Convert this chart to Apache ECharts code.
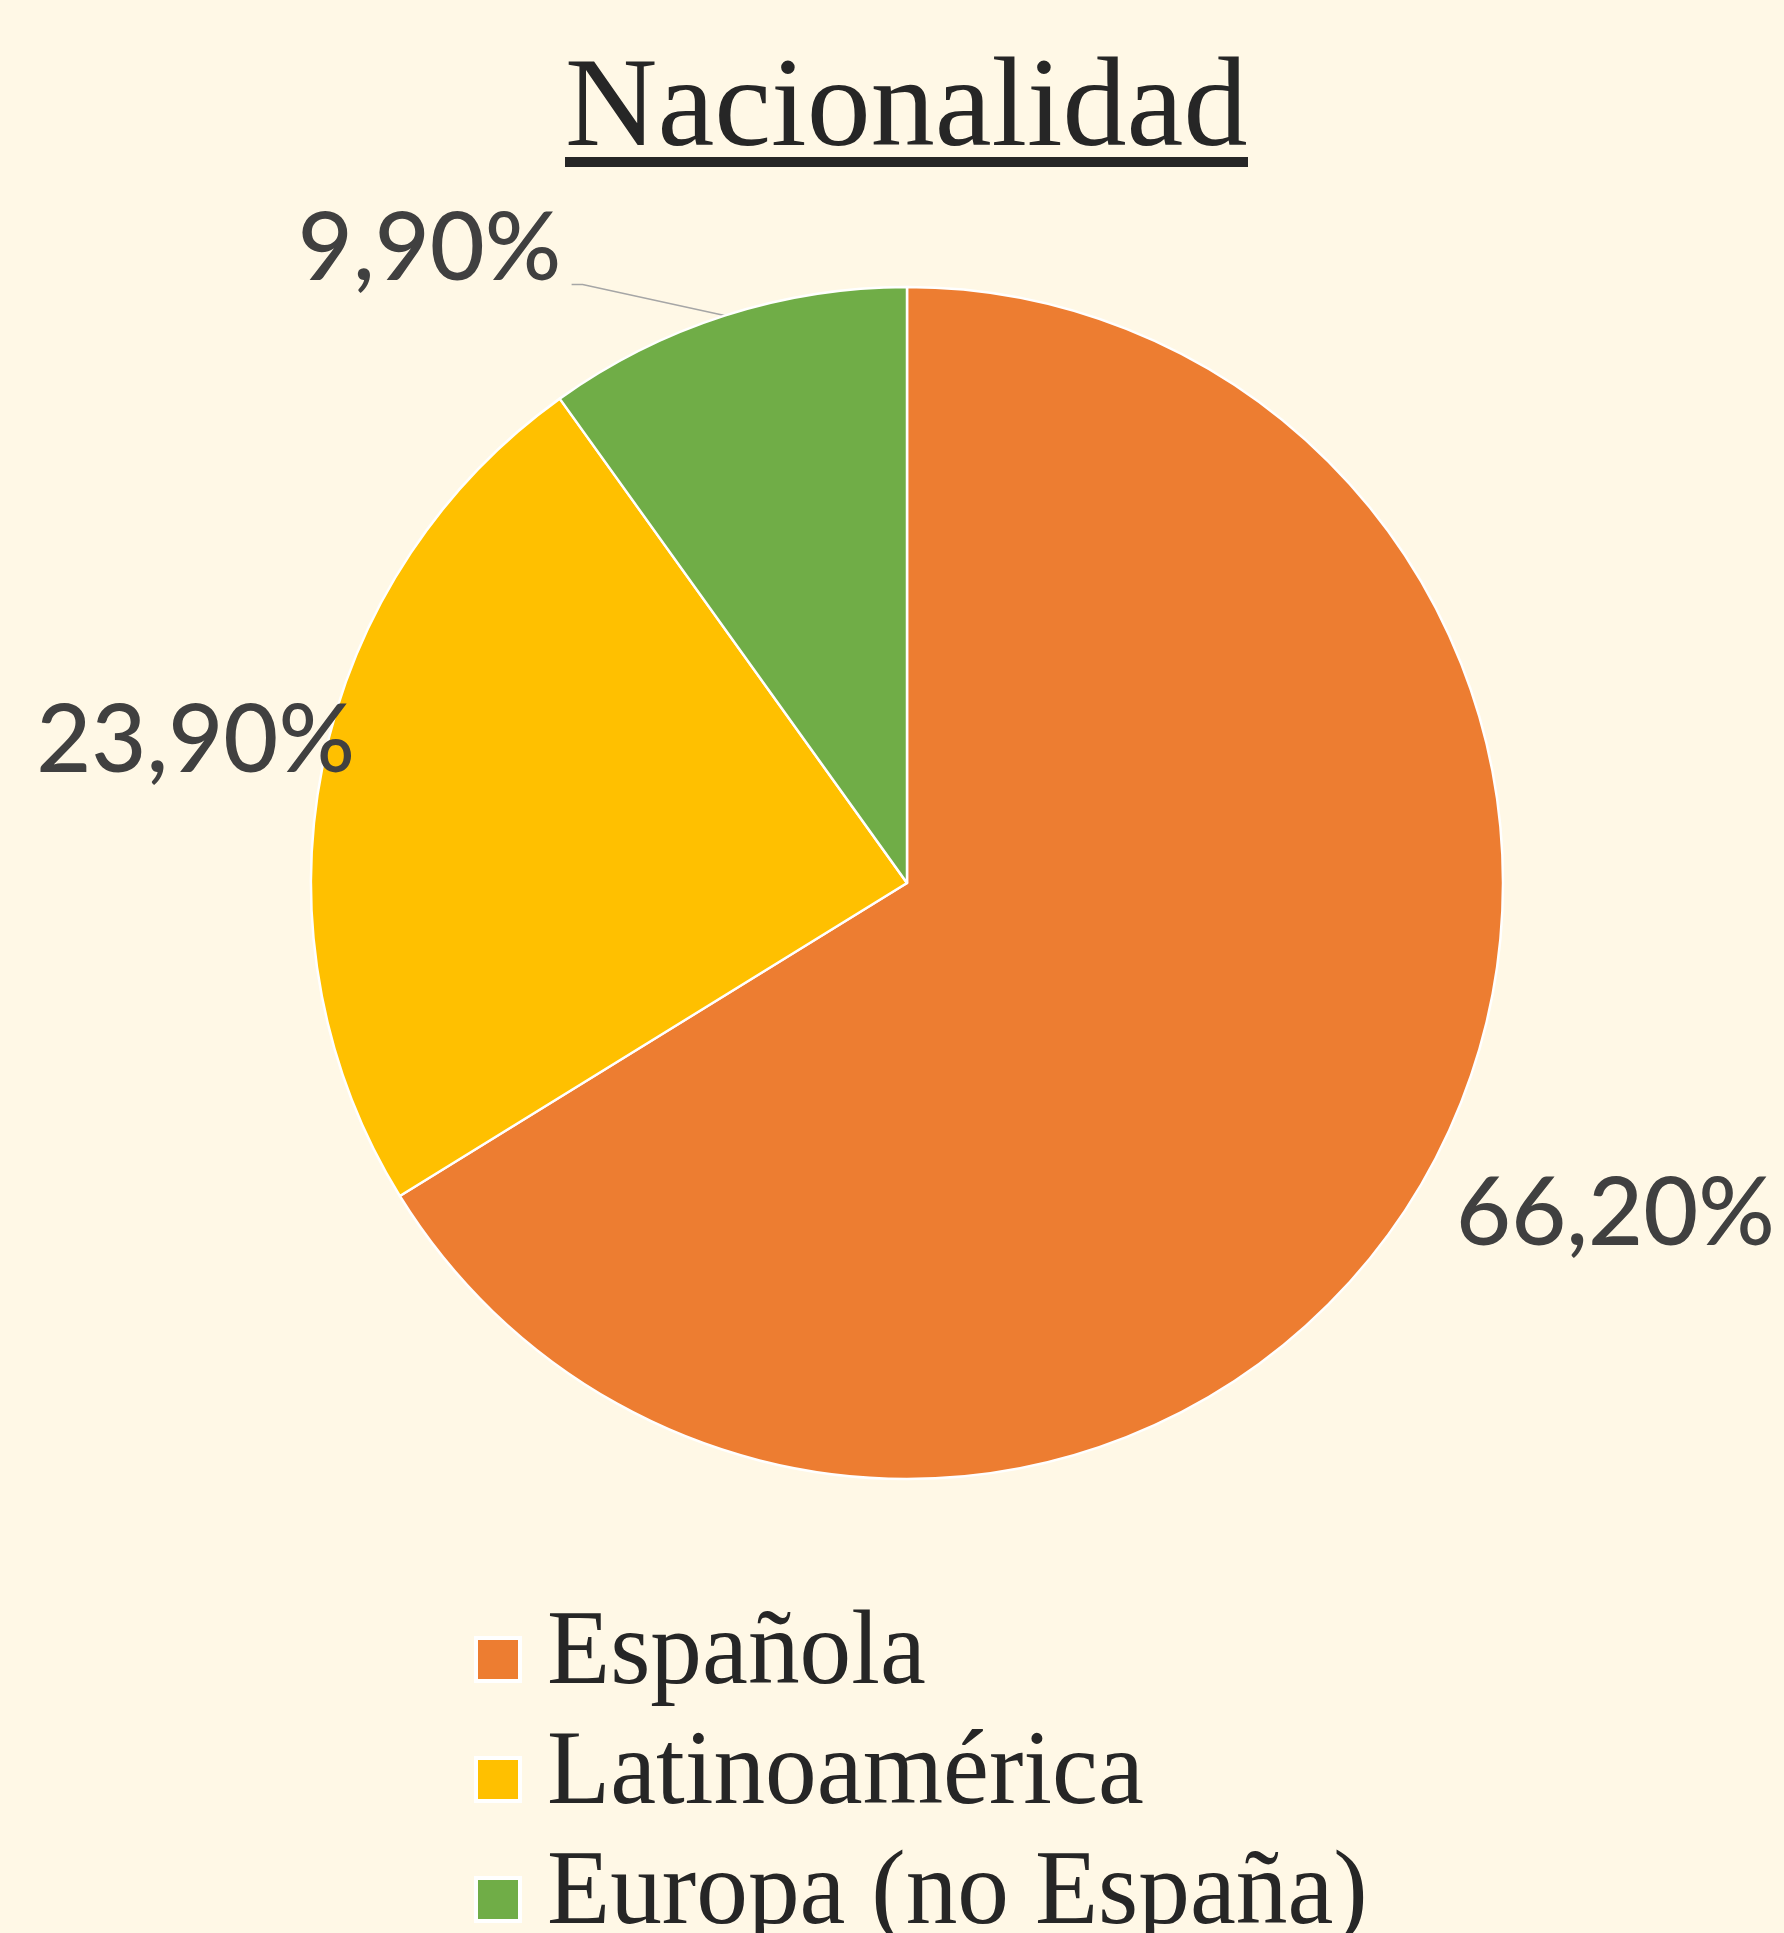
<!DOCTYPE html>
<html>
<head>
<meta charset="utf-8">
<script src="https://cdn.jsdelivr.net/npm/echarts@6/dist/echarts.min.js"></script>
<style>
  html, body { margin: 0; padding: 0; background: #FFF8E6; }
  #chart { width: 1784px; height: 1933px; }
</style>
</head>
<body>
<div id="chart"></div>
<script>
const categories = ['Española', 'Latinoamérica', 'Europa (no España)']
const values = [66.2, 23.9, 9.9]
const labels = ['66,20%', '23,90%', '9,90%']
const colors = ['#ED7D31', '#FFC000', '#70AD47']

// pie geometry
const CX = 907, CY = 883, R = 596
// label centre offset from the slice's mid point on the rim
const labelOffset = [[188, 41], [-127, -24], [-295, -66]]
// leader line bends (only the small slice has one)
const leaderBend = [null, null, [[-142, -31], [-153, -31]]]

const total = values.reduce((a, b) => a + b, 0)
const rimPoint = (i) => {
    let before = 0
    for (let k = 0; k < i; k++) before += values[k]
    const t = 2 * Math.PI * (before + values[i] / 2) / total
    return [CX + R * Math.sin(t), CY - R * Math.cos(t)]
}

// legend drawn by hand: square + serif text per category
const legendGraphics = []
categories.forEach((name, i) => {
    const y = 1638 + 120 * i
    legendGraphics.push({
        type: 'rect',
        shape: { x: 476, y: y, width: 44, height: 43 },
        style: { fill: colors[i], stroke: '#FFFFFF', lineWidth: 4 }
    })
    legendGraphics.push({
        type: 'text',
        x: 547,
        y: 1655 + 120 * i,
        scaleX: 0.975,
        style: {
            text: name,
            fill: '#262626',
            font: '106px "Liberation Serif"',
            textAlign: 'left',
            textVerticalAlign: 'middle'
        }
    })
})

const myChart = echarts.init(document.getElementById('chart'), null, { renderer: 'canvas' })

myChart.setOption({
    backgroundColor: '#FFF8E6',
    animation: false,
    graphic: [
        {
            type: 'text',
            x: 565,
            y: 111,
            style: {
                text: 'Nacionalidad',
                fill: '#262626',
                font: '128px "Liberation Serif"',
                textAlign: 'left',
                textVerticalAlign: 'middle'
            }
        },
        {
            // underline of the title
            type: 'rect',
            shape: { x: 565, y: 157, width: 683, height: 10 },
            style: { fill: '#262626' }
        }
    ].concat(legendGraphics),
    series: [
        {
            type: 'pie',
            center: [CX, CY],
            radius: R,
            startAngle: 90,
            clockwise: true,
            silent: true,
            data: categories.map((name, i) => ({
                name: name,
                value: values[i],
                itemStyle: { color: colors[i] },
                labelLine: { show: leaderBend[i] != null }
            })),
            itemStyle: { borderColor: '#FFFFFF', borderWidth: 2.5 },
            label: {
                show: true,
                position: 'outside',
                overflow: 'none',
                formatter: (p) => labels[p.dataIndex],
                fontFamily: 'Lato',
                fontWeight: 500,
                fontSize: 95,
                color: '#404040'
            },
            labelLine: {
                lineStyle: { color: '#A6A6A6', width: 1.5 }
            },
            labelLayout: (params) => {
                const i = params.dataIndex
                const p = rimPoint(i)
                const res = {
                    x: p[0] + labelOffset[i][0],
                    y: p[1] + labelOffset[i][1],
                    align: 'center',
                    verticalAlign: 'middle'
                }
                if (leaderBend[i]) {
                    res.labelLinePoints = [
                        p,
                        [p[0] + leaderBend[i][0][0], p[1] + leaderBend[i][0][1]],
                        [p[0] + leaderBend[i][1][0], p[1] + leaderBend[i][1][1]]
                    ]
                }
                return res
            }
        }
    ]
})
</script>
</body>
</html>
